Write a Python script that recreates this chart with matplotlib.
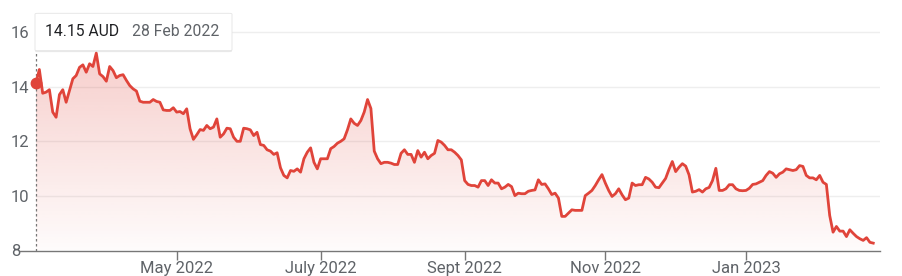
import numpy as np
import matplotlib.pyplot as plt
import matplotlib.patheffects as pe
from matplotlib.patches import FancyBboxPatch
from matplotlib.colors import to_rgb

# closing price, one value per trading day from 28 Feb 2022
prices = [14.15, 14.63, 13.76, 13.80, 13.89, 13.07, 12.88, 13.71, 13.89, 13.43,
          13.86, 14.29, 14.41, 14.71, 14.80, 14.53, 14.84, 14.74, 15.23, 14.47,
          14.37, 14.20, 14.74, 14.59, 14.33, 14.41, 14.44, 14.23, 14.04, 13.92,
          13.84, 13.47, 13.43, 13.43, 13.43, 13.53, 13.46, 13.43, 13.15, 13.13,
          13.13, 13.23, 13.07, 13.09, 13.01, 13.19, 12.46, 12.07, 12.24, 12.43,
          12.40, 12.58, 12.46, 12.52, 12.82, 12.15, 12.27, 12.48, 12.46, 12.15,
          12.00, 12.00, 12.48, 12.46, 12.42, 12.21, 12.33, 11.88, 11.85, 11.69,
          11.64, 11.52, 11.58, 11.03, 10.75, 10.66, 10.93, 10.90, 10.99, 10.87,
          11.36, 11.60, 11.76, 11.23, 10.99, 11.36, 11.36, 11.36, 11.73, 11.81,
          11.93, 12.00, 12.09, 12.42, 12.82, 12.66, 12.58, 12.76, 13.07, 13.53,
          13.20, 11.64, 11.36, 11.18, 11.23, 11.23, 11.20, 11.15, 11.15, 11.56,
          11.69, 11.52, 11.52, 11.23, 11.66, 11.42, 11.60, 11.36, 11.48, 11.56,
          12.03, 11.97, 11.85, 11.69, 11.69, 11.60, 11.48, 11.32, 10.56, 10.42,
          10.38, 10.38, 10.32, 10.56, 10.56, 10.38, 10.59, 10.47, 10.47, 10.26,
          10.32, 10.42, 10.34, 10.01, 10.10, 10.08, 10.08, 10.17, 10.20, 10.22,
          10.59, 10.42, 10.44, 10.26, 10.05, 10.10, 9.92, 9.25, 9.25, 9.37,
          9.49, 9.47, 9.47, 9.47, 10.01, 10.10, 10.20, 10.38, 10.59, 10.78,
          10.47, 10.20, 9.98, 10.08, 10.26, 10.04, 9.86, 9.92, 10.47, 10.38,
          10.41, 10.41, 10.68, 10.62, 10.50, 10.32, 10.30, 10.47, 10.64, 10.97,
          11.26, 10.89, 11.05, 11.18, 11.09, 10.77, 10.14, 10.17, 10.23, 10.14,
          10.26, 10.31, 10.56, 11.01, 10.20, 10.20, 10.26, 10.41, 10.41, 10.26,
          10.20, 10.19, 10.20, 10.28, 10.42, 10.44, 10.50, 10.56, 10.75, 10.89,
          10.83, 10.68, 10.81, 10.87, 10.99, 10.96, 10.93, 10.96, 11.11, 11.08,
          10.75, 10.66, 10.66, 10.59, 10.75, 10.50, 10.42, 9.28, 8.67, 8.88,
          8.71, 8.71, 8.51, 8.76, 8.63, 8.51, 8.43, 8.37, 8.47, 8.30,
          8.27]
days = np.arange(len(prices))

tick_days = [42, 85, 128, 170, 212]
tick_labels = ['May 2022', 'July 2022', 'Sept 2022', 'Nov 2022', 'Jan 2023']
y_ticks = [8, 10, 12, 14, 16]
tip_price = '14.15 AUD'
tip_date = '28 Feb 2022'

plt.rcParams['font.family'] = 'Roboto'
RED = '#e0443a'
W, H = 902, 276

fig = plt.figure(figsize=(W / 100, H / 100), dpi=100)
ax = fig.add_axes([20 / W, 25.5 / H, 860 / W, 240.5 / H])
x0 = -16 / 3.349
ax.set_xlim(x0, x0 + 860 / 3.349)
ax.set_ylim(8, 8 + 240.5 / 27.3)

for y in y_ticks[1:]:
    ax.axhline(y, xmin=16 / 860, color='#eeeeee', lw=1, zorder=0)

# gradient fill under the line
poly = ax.fill_between(days, prices, 8, color='none', lw=0)
img = np.zeros((256, 1, 4))
img[..., :3] = to_rgb(RED)
img[..., 3] = np.linspace(0.02, 0.26, 256)[:, None]
im = ax.imshow(img, origin='lower', aspect='auto', interpolation='bilinear',
               extent=[days[0], days[-1], 8, max(prices)], zorder=1)
im.set_clip_path(poly.get_paths()[0], transform=ax.transData)
ax.set_xlim(x0, x0 + 860 / 3.349)
ax.set_ylim(8, 8 + 240.5 / 27.3)

ax.plot(days, prices, color=RED, lw=2.0, solid_joinstyle='round', zorder=3)
ax.plot([days[0], days[0]], [8, 15.32], color='#777777', lw=0.9,
        ls=(0, (2, 2)), zorder=2)
ax.plot(days[0], prices[0], 'o', ms=7.5, color=RED, zorder=4)

ax.set_xticks(tick_days)
ax.set_xticklabels(tick_labels)
ax.set_yticks(y_ticks)
ax.set_yticklabels([str(v) for v in y_ticks])
for lab in ax.get_yticklabels():
    lab.set_horizontalalignment('left')
ax.tick_params(axis='x', length=6.5, width=1, color='#777777',
               labelsize=12, labelcolor='#5f6368', pad=1)
ax.tick_params(axis='y', length=0, labelsize=12, labelcolor='#5f6368', pad=6.5)

for s in ['top', 'right', 'left']:
    ax.spines[s].set_visible(False)
ax.spines['bottom'].set_color('#777777')
ax.spines['bottom'].set_linewidth(1)

# tooltip
box = FancyBboxPatch((35 / W, 1 - 50.7 / H), 197 / W, 37.4 / H,
                     boxstyle='round,pad=0,rounding_size=0.003',
                     transform=fig.transFigure, fc='white', ec='#e4e4e4', lw=0.6,
                     path_effects=[pe.SimplePatchShadow(offset=(0, -1), alpha=0.12),
                                   pe.Normal()])
fig.add_artist(box)
fig.text(45 / W, 1 - 31.7 / H, tip_price, ha='left', va='center',
         fontsize=11.3, color='#202124')
fig.text(132 / W, 1 - 31.7 / H, tip_date, ha='left', va='center',
         fontsize=11.3, color='#5f6368')

fig.savefig('out.png', dpi=100)
